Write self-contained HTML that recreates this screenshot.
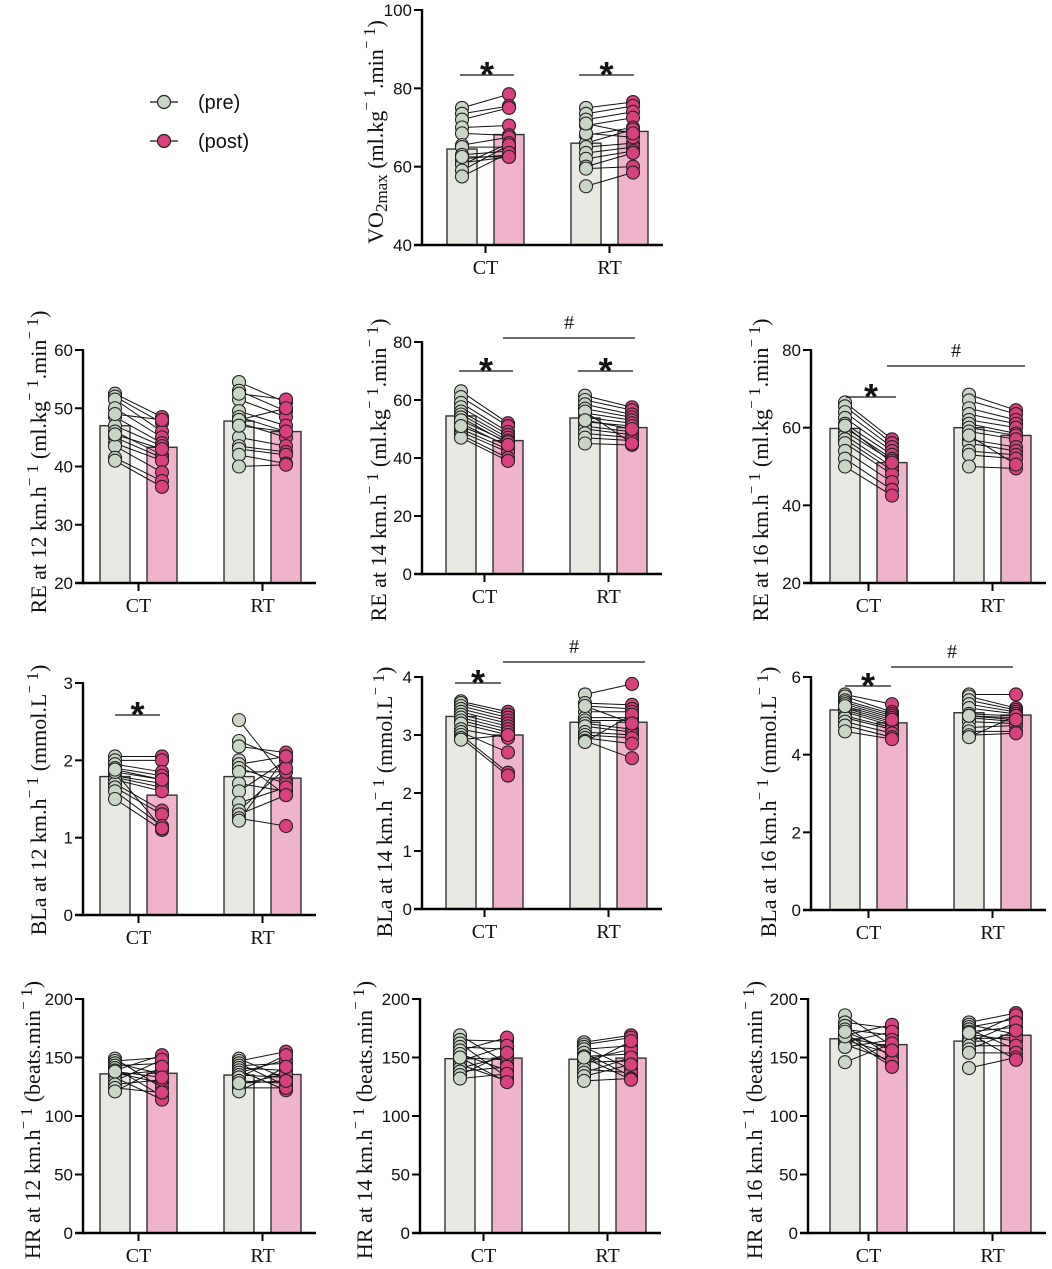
<!DOCTYPE html>
<html><head><meta charset="utf-8"><style>
html,body{margin:0;padding:0;background:#fff;}
svg{display:block;}
.tick{font-family:"Liberation Sans",sans-serif;font-size:17px;fill:#111;}
.xl{font-family:"Liberation Serif",serif;font-size:20px;fill:#111;}
.yt{font-family:"Liberation Serif",serif;font-size:22px;fill:#111;}
</style></head><body>
<svg id="fig" width="1052" height="1269" viewBox="0 0 1052 1269" xmlns="http://www.w3.org/2000/svg">
<g>
<line x1="150" y1="102" x2="178" y2="102" stroke="#111" stroke-width="1.2"/>
<circle cx="164" cy="102" r="6.5" fill="#c9d5c5" stroke="#222" stroke-width="1.2"/>
<text x="198" y="109" font-family="Liberation Sans, sans-serif" font-size="20" fill="#111">(pre)</text>
<line x1="150" y1="141" x2="178" y2="141" stroke="#111" stroke-width="1.2"/>
<circle cx="164" cy="141" r="6.5" fill="#d9407e" stroke="#222" stroke-width="1.2"/>
<text x="198" y="148" font-family="Liberation Sans, sans-serif" font-size="20" fill="#111">(post)</text>
</g>
</svg>
<script>
// ---- data (top level) ----
const groups = ["CT","RT"];
const vo2_ct_pre  = [75,73.5,72,70,68.5,65.5,65,63,62,61,60.5,59,57.5,62.5];
const vo2_ct_post = [78.5,75.5,75,70.5,68,67.5,65,64,63,62.5,66,65.5,63.5,62.5];
const vo2_rt_pre  = [75,73.5,72,70.5,68,66,65,63.5,62,60,59.5,55,68.5,71];
const vo2_rt_post = [76.5,75.5,74,72.5,70,69.5,66,65,64,63.5,60,58.5,67.5,68.5];
const vo2_means = [64.5,68.2,66,69];
const re12_ct_pre  = [52.5,52,51.5,50,48.5,47,46,45,44,43.5,41.5,41,49,45.5];
const re12_ct_post = [48.5,47.5,46,45,44,43.5,42,41.5,41,39,37.5,36.5,48,43];
const re12_rt_pre  = [54.5,53,51.5,49.5,48.5,47.5,45,43.5,43,42,40,52.5,48,47];
const re12_rt_post = [51,49.5,48.5,47,46,45,43.5,42.5,42,40.5,40.3,51.5,50,46];
const re12_means = [47,43.3,47.8,46];
const re14_ct_pre  = [63,61,59,57.5,56,55,54,52,50,49,48,47,53,51];
const re14_ct_post = [52,51,49,48,47,46,45,44,43,42,40,39,45.5,44.5];
const re14_rt_pre  = [61.5,60,58.5,57,55.5,54,52.5,51,50,48.5,47,45,56,53];
const re14_rt_post = [57.5,56.5,55,54,53,52,51,49,48,47,46,44.5,45,50];
const re14_means = [54.5,46,53.8,50.5];
const re16_ct_pre  = [66.5,65.5,64,62.5,61,60,59,58,57,56,54,52,50,60.5];
const re16_ct_post = [57,56,55,54,53,52,51.5,50,49,48,46,44,42.5,51];
const re16_rt_pre  = [68.5,67,65,63.5,62,61,60,59,57,56,54,53,50,58];
const re16_rt_post = [64.5,63.5,62,61,60,58.5,58,57,55,54,53,52,49.5,50.5];
const re16_means = [59.8,51,60,58];
const bla12_ct_pre  = [2.05,2.0,1.95,1.9,1.85,1.8,1.78,1.75,1.7,1.65,1.6,1.5,1.85,1.88];
const bla12_ct_post = [2.05,2.0,1.85,1.8,1.75,1.7,1.65,1.6,1.35,1.3,1.15,1.1,1.12,1.75];
const bla12_rt_pre  = [2.52,2.25,2.18,2.0,1.95,1.9,1.85,1.7,1.6,1.45,1.35,1.3,1.25,1.22];
const bla12_rt_post = [1.75,2.0,2.1,1.55,2.05,1.7,1.85,1.6,2.0,1.65,1.9,1.55,1.15,2.05];
const bla12_means = [1.79,1.55,1.79,1.77];
const bla14_ct_pre  = [3.58,3.55,3.5,3.45,3.4,3.35,3.3,3.25,3.2,3.1,3.05,3.0,2.95,2.92];
const bla14_ct_post = [3.4,3.35,3.3,3.25,3.2,3.15,3.1,3.05,3.0,2.95,2.7,2.35,2.3,3.0];
const bla14_rt_pre  = [3.7,3.55,3.5,3.4,3.3,3.25,3.2,3.15,3.05,3.0,2.95,2.9,2.88,3.5];
const bla14_rt_post = [3.88,3.52,3.45,3.4,3.3,3.25,3.1,3.05,3.0,2.95,2.85,2.6,3.35,3.2];
const bla14_means = [3.32,3.0,3.22,3.22];
const bla16_ct_pre  = [5.55,5.5,5.4,5.35,5.3,5.2,5.15,5.1,5.0,4.95,4.85,4.75,4.6,5.25];
const bla16_ct_post = [5.3,5.1,5.05,5.0,4.95,4.85,4.8,4.75,4.7,4.65,4.55,4.45,4.4,4.9];
const bla16_rt_pre  = [5.55,5.5,5.4,5.3,5.2,5.05,5.0,4.95,4.85,4.7,4.6,4.5,4.45,5.0];
const bla16_rt_post = [5.55,5.2,5.15,5.1,5.05,5.0,4.95,4.85,4.8,4.75,4.6,4.55,5.0,4.9];
const bla16_means = [5.15,4.82,5.08,5.02];
const hr12_ct_pre  = [149,147,145,143,141,139,137,135,133,130,127,124,121,138];
const hr12_ct_post = [124,150,136,145,117,152,128,139,114,148,131,120,142,133];
const hr12_rt_pre  = [149,147,145,143,141,139,137,135,133,130,127,124,121,128];
const hr12_rt_post = [132,155,126,145,139,122,148,133,152,128,136,124,142,130];
const hr12_means = [136,136.5,135,135.5];
const hr14_ct_pre  = [169,165,162,159,156,153,150,147,144,141,138,135,132,150];
const hr14_ct_post = [145,164,133,157,167,139,148,160,130,151,142,154,136,129];
const hr14_rt_pre  = [163,161,159,157,154,151,148,146,143,140,137,134,130,150];
const hr14_rt_post = [169,167,140,160,134,153,157,147,164,137,150,144,132,131];
const hr14_means = [149,149.5,148.5,149.5];
const hr16_ct_pre  = [186,180,177,174,171,169,167,165,163,161,159,146,168,172];
const hr16_ct_post = [160,175,150,169,144,178,159,153,172,147,165,162,142,156];
const hr16_rt_pre  = [180,178,176,174,172,170,168,166,163,160,157,154,141,171];
const hr16_rt_post = [188,170,183,157,176,164,186,167,180,160,173,154,150,148];
const hr16_means = [166,161,164,169];
const vo2_ticks=[40,60,80,100], re12_ticks=[20,30,40,50,60], re14_ticks=[0,20,40,60,80], re16_ticks=[20,40,60,80];
const bla12_ticks=[0,1,2,3], bla14_ticks=[0,1,2,3,4], bla16_ticks=[0,2,4,6], hr_ticks=[0,50,100,150,200];

const NS="http://www.w3.org/2000/svg";
const svg=document.getElementById('fig');
function mk(tag,attrs,parent){const e=document.createElementNS(NS,tag);for(const k in attrs)e.setAttribute(k,attrs[k]);(parent||svg).appendChild(e);return e;}

function panel(p){
  const g=mk('g',{});
  
  
  const t=p.ticks, ymin=t[0], ymax=t[t.length-1];
  const Y=v=>p.yb-(v-ymin)/(ymax-ymin)*(p.yb-p.yt);
  const b=p.b0, W=30;
  const barX=[b,b+47,b+124,b+171];
  const fills=['#e8e9e3','#efb3cb','#e8e9e3','#efb3cb'];
  const bnames=['bar-ct-pre','bar-ct-post','bar-rt-pre','bar-rt-post'];
  p.means.forEach((m,i)=>{
    const r=mk('rect',{x:barX[i],y:Y(m),width:W,height:p.yb-Y(m),fill:fills[i],stroke:'#333','stroke-width':1.4},g);
    
    
  });
  const sets=[[p.d[0],p.d[1],barX[0],barX[1]],[p.d[2],p.d[3],barX[2],barX[3]]];
  sets.forEach(([pre,post,x1,x2])=>{
    pre.forEach((v,i)=>{mk('line',{x1:x1+W/2,y1:Y(v),x2:x2+W/2,y2:Y(post[i]),stroke:'#111','stroke-width':1},g);});
  });
  sets.forEach(([pre,post,x1,x2])=>{
    pre.forEach(v=>{const c=mk('circle',{cx:x1+W/2,cy:Y(v),r:6.5,fill:'#c9d5c5',stroke:'#222','stroke-width':1.1},g);
      
      });
    post.forEach(v=>{const c=mk('circle',{cx:x2+W/2,cy:Y(v),r:6.5,fill:'#d9407e',stroke:'#222','stroke-width':1.1},g);
      
      });
  });
  const ya=mk('line',{x1:p.ax,y1:p.yt-1,x2:p.ax,y2:p.yb+1.2,stroke:'#000','stroke-width':2.4},g);
  
  
  const xa=mk('line',{x1:p.ax-8,y1:p.yb,x2:b+216,y2:p.yb,stroke:'#000','stroke-width':2.4},g);
  
  
  t.forEach(v=>{
    mk('line',{x1:p.ax-8,y1:Y(v),x2:p.ax,y2:Y(v),stroke:'#000','stroke-width':2},g);
    const tx=mk('text',{x:p.ax-10,y:Y(v)+6,'text-anchor':'end',class:'tick'},g);
    tx.textContent=v;
    
    
  });
  [b+38.5,b+162.5].forEach((cx,i)=>{
    mk('line',{x1:cx,y1:p.yb,x2:cx,y2:p.yb+8,stroke:'#000','stroke-width':2},g);
    const tx=mk('text',{x:cx,y:p.yb+29,'text-anchor':'middle',class:'xl'},g);
    tx.textContent=groups[i];
    
    
  });
  const tt=mk('text',{transform:`translate(${p.tx},${p.ty}) rotate(-90)`,'text-anchor':'middle',class:'yt'},g);
  
  
  p.title.forEach(([s,k])=>{const ts=mk('tspan',{},tt);ts.textContent=s;
    if(k==='sup'){ts.setAttribute('baseline-shift','50%');ts.setAttribute('font-size','17');}
    if(k==='sub'){ts.setAttribute('baseline-shift','-25%');ts.setAttribute('font-size','17');}});
  (p.stars||[]).forEach(s=>{
    mk('line',{x1:b+s[0],y1:s[2],x2:b+s[1],y2:s[2],stroke:'#111','stroke-width':1.2},g);
    const st=mk('text',{x:b+(s[0]+s[1])/2,y:s[2]+12,'text-anchor':'middle','font-family':'Liberation Sans, sans-serif','font-size':'36','font-weight':'bold',fill:'#111'},g);
    st.textContent='*';
    
    
  });
  (p.hash||[]).forEach(s=>{
    mk('line',{x1:b+s[0],y1:s[2],x2:b+s[1],y2:s[2],stroke:'#111','stroke-width':1.2},g);
    const st=mk('text',{x:b+(s[0]+s[1])/2,y:s[2]-9,'text-anchor':'middle','font-family':'Liberation Serif, serif','font-size':'20',fill:'#111'},g);
    st.textContent='#';
    
    
  });
}
function reTitle(sp){return [['RE at '+sp+' km.h'],['⁻ 1','sup'],[' (ml.kg'],['⁻ 1','sup'],['.min'],['⁻ 1','sup'],[')']];}
function blaTitle(sp){return [['BLa at '+sp+' km.h'],['⁻ 1','sup'],[' (mmol.L'],['⁻ 1','sup'],[')']];}
function hrTitle(sp){return [['HR at '+sp+' km.h'],['⁻ 1','sup'],[' (beats.min'],['⁻ 1','sup'],[')']];}

panel({name:'vo2max',ax:422,b0:447,yt:10,yb:245,ticks:vo2_ticks,means:vo2_means,d:[vo2_ct_pre,vo2_ct_post,vo2_rt_pre,vo2_rt_post],
  tx:383,ty:132,title:[['VO'],['2max','sub'],[' (ml.kg'],['⁻ 1','sup'],['.min'],['⁻ 1','sup'],[')']],
  stars:[[13,67,75],[132,187,75]]});
panel({name:'re-12',ax:83,b0:100,yt:350,yb:583,ticks:re12_ticks,means:re12_means,d:[re12_ct_pre,re12_ct_post,re12_rt_pre,re12_rt_post],
  tx:46,ty:462,title:reTitle(12)});
panel({name:'re-14',ax:422,b0:446,yt:342,yb:574,ticks:re14_ticks,means:re14_means,d:[re14_ct_pre,re14_ct_post,re14_rt_pre,re14_rt_post],
  tx:386,ty:470,title:reTitle(14),stars:[[13,67,371],[132,187,371]],hash:[[57,189,338]]});
panel({name:'re-16',ax:811,b0:830,yt:350,yb:583,ticks:re16_ticks,means:re16_means,d:[re16_ct_pre,re16_ct_post,re16_rt_pre,re16_rt_post],
  tx:768,ty:470,title:reTitle(16),stars:[[16,66,397]],hash:[[57,195,366]]});
panel({name:'bla-12',ax:83,b0:100,yt:683,yb:915,ticks:bla12_ticks,means:bla12_means,d:[bla12_ct_pre,bla12_ct_post,bla12_rt_pre,bla12_rt_post],
  tx:46,ty:800,title:blaTitle(12),stars:[[15,60,715]]});
panel({name:'bla-14',ax:422,b0:446,yt:677,yb:909,ticks:bla14_ticks,means:bla14_means,d:[bla14_ct_pre,bla14_ct_post,bla14_rt_pre,bla14_rt_post],
  tx:392,ty:802,title:blaTitle(14),stars:[[9,55,683]],hash:[[57,199,662]]});
panel({name:'bla-16',ax:811,b0:830,yt:677,yb:910,ticks:bla16_ticks,means:bla16_means,d:[bla16_ct_pre,bla16_ct_post,bla16_rt_pre,bla16_rt_post],
  tx:776,ty:802,title:blaTitle(16),stars:[[15,61,686]],hash:[[61,183,667]]});
panel({name:'hr-12',ax:83,b0:100,yt:999,yb:1233,ticks:hr_ticks,means:hr12_means,d:[hr12_ct_pre,hr12_ct_post,hr12_rt_pre,hr12_rt_post],
  tx:40,ty:1120,title:hrTitle(12)});
panel({name:'hr-14',ax:420,b0:445,yt:999,yb:1233,ticks:hr_ticks,means:hr14_means,d:[hr14_ct_pre,hr14_ct_post,hr14_rt_pre,hr14_rt_post],
  tx:372,ty:1120,title:hrTitle(14)});
panel({name:'hr-16',ax:808,b0:830,yt:999,yb:1233,ticks:hr_ticks,means:hr16_means,d:[hr16_ct_pre,hr16_ct_post,hr16_rt_pre,hr16_rt_post],
  tx:762,ty:1120,title:hrTitle(16)});
</script>
</body></html>
